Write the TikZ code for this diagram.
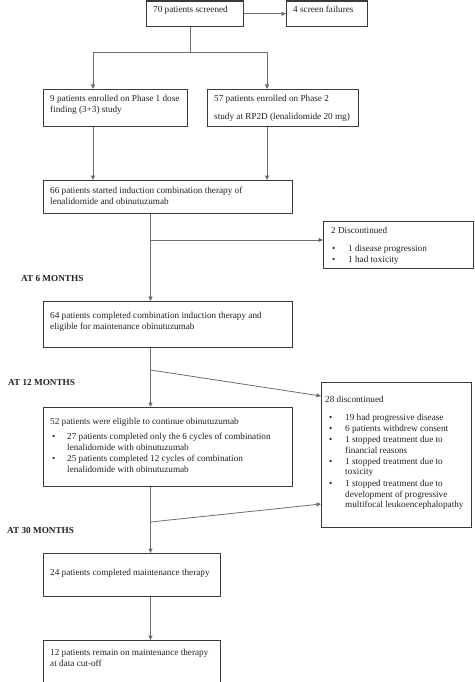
\documentclass[tikz,border=0pt]{standalone}
\usepackage{fontspec}
\setmainfont{Liberation Serif}
\usetikzlibrary{arrows.meta}
\definecolor{boxc}{HTML}{3A3A3A}
\definecolor{linec}{HTML}{6E6E6E}
\definecolor{txtc}{HTML}{222222}
\begin{document}
\begin{tikzpicture}[x=1pt,y=-1pt,
  box/.style={draw=boxc,line width=1.1pt,inner sep=0pt,anchor=north west},
  txt/.style={anchor=base west,inner sep=0pt,text=txtc,font=\fontsize{9.2}{11}\selectfont},
  lbl/.style={anchor=base west,inner sep=0pt,text=txtc,font=\fontsize{9.2}{11}\selectfont\bfseries},
  con/.style={draw=linec,line width=0.8pt},
  arr/.style={con,-{Triangle[length=4.5pt,width=4pt]}}]
\useasboundingbox[fill=white] (0,0) rectangle (474,682);

% boxes
\node[box,minimum width=97pt,minimum height=25.5pt] (b1) at (146,0.5) {};
\node[box,minimum width=81pt,minimum height=25.5pt] (b2) at (286,0.5) {};
\node[box,minimum width=144pt,minimum height=37pt] (b3) at (43,89) {};
\node[box,minimum width=151pt,minimum height=37pt] (b4) at (207,89) {};
\node[box,minimum width=249pt,minimum height=33pt] (b5) at (43,180) {};
\node[box,minimum width=150pt,minimum height=47pt] (b7) at (323,221) {};
\node[box,minimum width=249pt,minimum height=46pt] (b6) at (43,301) {};
\node[box,minimum width=249pt,minimum height=79pt] (b8) at (43,407) {};
\node[box,minimum width=150pt,minimum height=145pt] (b9) at (321,382) {};
\node[box,minimum width=177pt,minimum height=43pt] (b10) at (43,553) {};
\node[box,minimum width=177pt,minimum height=41.5pt] (b11) at (43,640) {};

% connectors
\draw[arr] (b1.east) -- (b2.west);
\coordinate (j1) at (190,52);
\coordinate (ja) at (93,52);
\coordinate (jb) at (267,52);
\draw[con] (b1.south -| j1) -- (j1);
\draw[con] (ja) -- (jb);
\draw[arr] (ja) -- (ja |- b3.north);
\draw[arr] (jb) -- (jb |- b4.north);
\draw[arr] (b3.south -| ja) -- (b5.north -| ja);
\draw[arr] (b4.south -| jb) -- (b5.north -| jb);
\coordinate (m) at (150.5,0);
\draw[arr] (b5.south -| m) -- (b6.north -| m);
\coordinate (d1) at (150.5,240);
\draw[arr] (d1) -- (d1 -| b7.west);
\draw[arr] (b6.south -| m) -- (b8.north -| m);
\coordinate (d2) at (150.5,370);
\coordinate (e2) at (321,396);
\draw[arr] (d2) -- (e2);
\draw[arr] (b8.south -| m) -- (b10.north -| m);
\coordinate (d3) at (150.5,522);
\coordinate (e3) at (321,504);
\draw[arr] (d3) -- (e3);
\draw[arr] (b10.south -| m) -- (b11.north -| m);

% texts
\node[txt] (t1) at (153,12.5) {70 patients screened};
\node[txt] (t2) at (293,12.5) {4 screen failures};
\node[txt] (t3a) at (50,101.7) {9 patients enrolled on Phase 1 dose};
\node[txt] (t3b) at (50,113) {finding (3+3) study};
\node[txt] (t4a) at (214,101.3) {57 patients enrolled on Phase 2};
\node[txt] (t4b) at (214,119.3) {study at RP2D (lenalidomide 20 mg)};
\node[txt] (t5a) at (50,193.7) {66 patients started induction combination therapy of};
\node[txt] (t5b) at (50,204) {lenalidomide and obinutuzumab};
\node[txt] (t7a) at (331,233) {2 Discontinued};
\node[txt] (t7b1) at (332,251.3) {•};
\node[txt] (t7b) at (348,251.3) {1 disease progression};
\node[txt] (t7c1) at (332,262.3) {•};
\node[txt] (t7c) at (348,262.3) {1 had toxicity};
\node[lbl] (l6) at (21,281.3) {AT 6 MONTHS};
\node[txt] (t6a) at (50,318.7) {64 patients completed combination induction therapy and};
\node[txt] (t6b) at (50,329) {eligible for maintenance obinutuzumab};
\node[lbl] (l12) at (8,385.7) {AT 12 MONTHS};
\node[txt] (t8a) at (50,424.7) {52 patients were eligible to continue obinutuzumab};
\node[txt] (t8b1) at (52,439.7) {•};
\node[txt] (t8b) at (67,439.7) {27 patients completed only the 6 cycles of combination};
\node[txt] (t8c) at (67,450.3) {lenalidomide with obinutuzumab};
\node[txt] (t8d1) at (52,461.3) {•};
\node[txt] (t8d) at (67,461.3) {25 patients completed 12 cycles of combination};
\node[txt] (t8e) at (67,472) {lenalidomide with obinutuzumab};
\node[txt] (t9a) at (325,402) {28 discontinued};
\node[txt] (t9b1) at (329,420.3) {•};
\node[txt] (t9b) at (345,420.3) {19 had progressive disease};
\node[txt] (t9c1) at (329,431.3) {•};
\node[txt] (t9c) at (345,431.3) {6 patients withdrew consent};
\node[txt] (t9d1) at (329,442) {•};
\node[txt] (t9d) at (345,442) {1 stopped treatment due to};
\node[txt] (t9e) at (345,453) {financial reasons};
\node[txt] (t9f1) at (329,464) {•};
\node[txt] (t9f) at (345,464) {1 stopped treatment due to};
\node[txt] (t9g) at (345,474.7) {toxicity};
\node[txt] (t9h1) at (329,486.3) {•};
\node[txt] (t9h) at (345,486.3) {1 stopped treatment due to};
\node[txt] (t9i) at (345,497) {development of progressive};
\node[txt] (t9j) at (345,507.7) {multifocal leukoencephalopathy};
\node[lbl] (l30) at (7,533) {AT 30 MONTHS};
\node[txt] (t10) at (50,575) {24 patients completed maintenance therapy};
\node[txt] (t11a) at (50,655.7) {12 patients remain on maintenance therapy};
\node[txt] (t11b) at (50,666.3) {at data cut-off};
\end{tikzpicture}
\end{document}
